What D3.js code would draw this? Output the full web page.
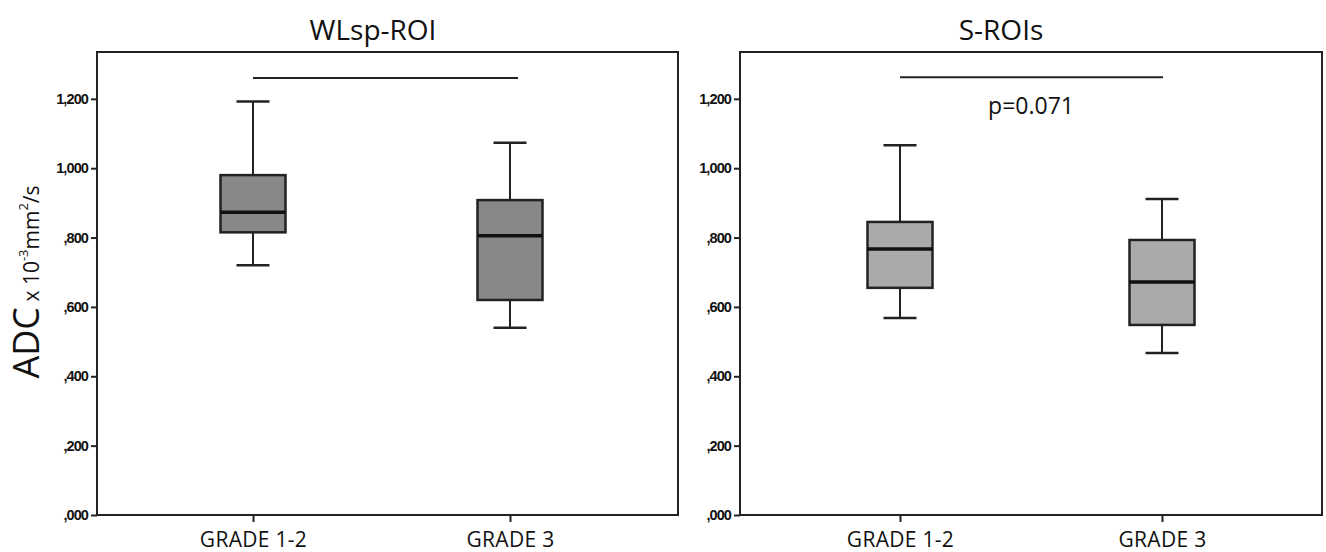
<!DOCTYPE html>
<html><head><meta charset="utf-8">
<script src="https://cdn.jsdelivr.net/npm/d3@7"></script>
<style>body{margin:0;background:#fff}svg{display:block}</style>
</head><body>
<script>
const categories = ["GRADE 1-2", "GRADE 3"];
const panelTitles = ["WLsp-ROI", "S-ROIs"];
// [whiskerLow, Q1, median, Q3, whiskerHigh] per category
const wlspStats = [[720, 815, 873, 980, 1192], [540, 620, 805, 908, 1073]];
const sroiStats = [[568, 655, 767, 845, 1066], [467, 548, 672, 793, 911]];
const sigLevel = [1260, 1262];
const pLabels = ["", "p=0.071"];
const yTicks = [0, 200, 400, 600, 800, 1000, 1200];
const yTickLabels = [",000", ",200", ",400", ",600", ",800", "1,000", "1,200"];
const yDomain = [0, 1335];

(function () {
const W = 1326, H = 552;
const svg = d3.select("body").append("svg").attr("width", W).attr("height", H);

const panels = [
  {x0: 97, x1: 678, inner: [253, 510], sigExtra: 8, titleX: 373, stats: wlspStats, fill: "#888888"},
  {x0: 740, x1: 1322, inner: [900, 1162], sigExtra: 1, titleX: 1001, stats: sroiStats, fill: "#aaaaaa"}
];
const plotTop = 52, plotBottom = 515;
const y = d3.scaleLinear().domain(yDomain).range([plotBottom, plotTop]);

panels.forEach((p, i) => {
  const g = svg.append("g");
  const x = d3.scalePoint().domain(categories).range(p.inner).padding(0);
  g.append("rect").attr("x", p.x0).attr("y", plotTop).attr("width", p.x1 - p.x0).attr("height", plotBottom - plotTop)
    .attr("fill", "none").attr("stroke", "#222").attr("stroke-width", 2);
  const ya = g.append("g").attr("transform", `translate(${p.x0},0)`)
    .call(d3.axisLeft(y).tickValues(yTicks).tickFormat((d, k) => yTickLabels[k]).tickSize(6).tickPadding(3));
  ya.select(".domain").remove();
  ya.selectAll("line").attr("stroke", "#222").attr("stroke-width", 2);
  ya.selectAll("text").attr("font-family", "Liberation Sans, Arial, sans-serif").attr("font-weight", "bold")
    .attr("font-size", 14.5).attr("fill", "#111").attr("letter-spacing", "-0.9px");
  const xa = g.append("g").attr("transform", `translate(0,${plotBottom})`)
    .call(d3.axisBottom(x).tickSize(7).tickPadding(10));
  xa.select(".domain").remove();
  xa.selectAll("line").attr("stroke", "#222").attr("stroke-width", 2);
  xa.selectAll("text").attr("font-family", "Open Sans, Noto Sans, sans-serif")
    .attr("font-size", 21).attr("fill", "#111").attr("letter-spacing", "0.3px");
  g.append("text").attr("x", p.titleX).attr("y", 40).attr("text-anchor", "middle")
    .attr("font-family", "Open Sans, Noto Sans, sans-serif").attr("font-size", 28).attr("fill", "#111")
    .text(panelTitles[i]);
  const bw = 65, cw = 33;
  categories.forEach((c, k) => {
    const s = p.stats[k];
    const cx = x(c);
    const bg = g.append("g");
    bg.append("line").attr("x1", cx).attr("x2", cx).attr("y1", y(s[0])).attr("y2", y(s[1]))
      .attr("stroke", "#222").attr("stroke-width", 2);
    bg.append("line").attr("x1", cx).attr("x2", cx).attr("y1", y(s[3])).attr("y2", y(s[4]))
      .attr("stroke", "#222").attr("stroke-width", 2);
    [s[0], s[4]].forEach(v => bg.append("line").attr("x1", cx - cw / 2).attr("x2", cx + cw / 2)
      .attr("y1", y(v)).attr("y2", y(v)).attr("stroke", "#222").attr("stroke-width", 2.5));
    bg.append("rect").attr("x", cx - bw / 2).attr("y", y(s[3])).attr("width", bw).attr("height", y(s[1]) - y(s[3]))
      .attr("fill", p.fill).attr("stroke", "#222").attr("stroke-width", 2.5);
    bg.append("line").attr("x1", cx - bw / 2).attr("x2", cx + bw / 2).attr("y1", y(s[2])).attr("y2", y(s[2]))
      .attr("stroke", "#111").attr("stroke-width", 3.5);
  });
  g.append("line").attr("x1", x(categories[0])).attr("x2", x(categories[1]) + p.sigExtra)
    .attr("y1", y(sigLevel[i])).attr("y2", y(sigLevel[i])).attr("stroke", "#222").attr("stroke-width", 2);
  if (pLabels[i]) {
    g.append("text").attr("x", (x(categories[0]) + x(categories[1])) / 2).attr("y", y(sigLevel[i]) + 37)
      .attr("text-anchor", "middle").attr("font-family", "Open Sans, Noto Sans, sans-serif")
      .attr("font-size", 23).attr("fill", "#111").text(pLabels[i]);
  }
});

const yt = svg.append("text").attr("transform", "translate(39,282) rotate(-90)")
  .attr("text-anchor", "middle").attr("font-family", "Open Sans, Noto Sans, sans-serif").attr("fill", "#111");
yt.append("tspan").attr("font-size", 36).text("ADC");
yt.append("tspan").attr("font-size", 21).text(" x 10");
yt.append("tspan").attr("font-size", 13).attr("dy", -11).text("-3");
yt.append("tspan").attr("font-size", 21).attr("dy", 11).text("mm");
yt.append("tspan").attr("font-size", 13).attr("dy", -11).text("2");
yt.append("tspan").attr("font-size", 21).attr("dy", 11).text("/s");
})();
</script>
</body></html>
